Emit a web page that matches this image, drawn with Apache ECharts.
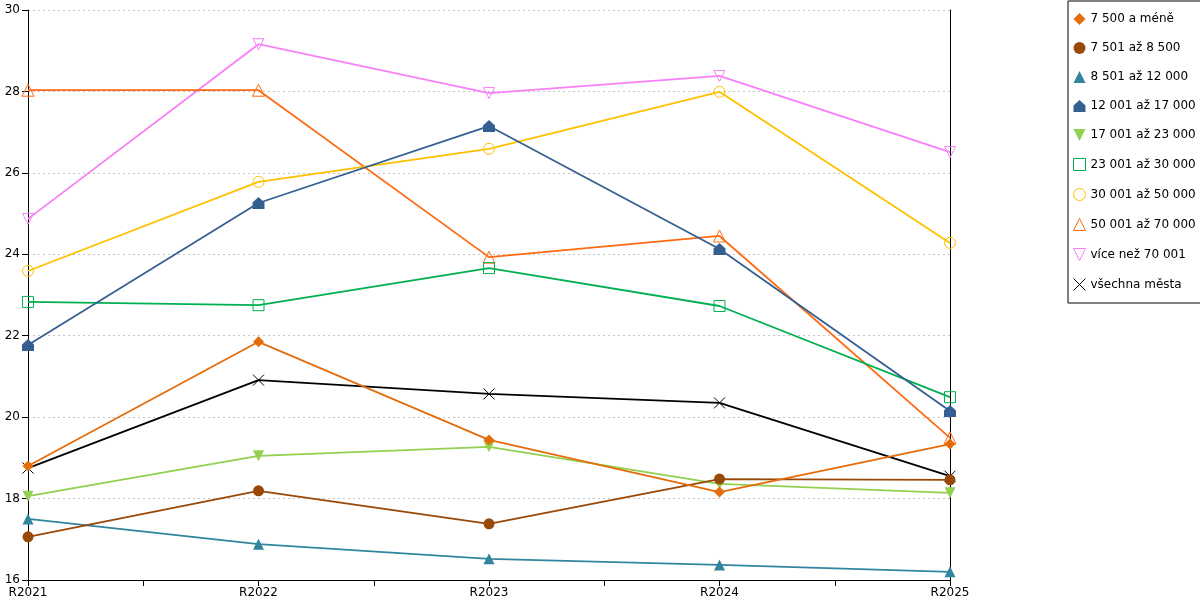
<!DOCTYPE html>
<html>
<head>
    <meta charset="utf-8">
    <title>Graf</title>
    <script src="https://cdn.jsdelivr.net/npm/echarts@6/dist/echarts.min.js"></script>
    <style>
        html, body { margin: 0; padding: 0; background: #ffffff; }
        #chart { width: 1200px; height: 600px; }
    </style>
</head>
<body>
<div id="chart"></div>
<script>
    // kategorie a hodnoty
    var roky = ['R2021', 'R2022', 'R2023', 'R2024', 'R2025'];
    var pomocneTicky = ['R2021', '', 'R2022', '', 'R2023', '', 'R2024', '', 'R2025'];

    var nazvy = ['7 500 a méně', '7 501 až 8 500', '8 501 až 12 000', '12 001 až 17 000',
        '17 001 až 23 000', '23 001 až 30 000', '30 001 až 50 000', '50 001 až 70 000',
        'více než 70 001', 'všechna města'];

    var s7500 = [18.80, 21.85, 19.44, 18.16, 19.34];
    var s8500 = [17.06, 18.19, 17.38, 18.48, 18.46];
    var s12000 = [17.50, 16.88, 16.52, 16.37, 16.20];
    var s17000 = [21.77, 25.26, 27.15, 24.13, 20.15];
    var s23000 = [18.06, 19.05, 19.27, 18.36, 18.14];
    var s30000 = [22.83, 22.75, 23.66, 22.73, 20.49];
    var s50000 = [23.59, 25.78, 26.59, 27.99, 24.28];
    var s70000 = [28.03, 28.03, 23.93, 24.45, 19.49];
    var sVice = [24.87, 29.16, 27.96, 28.38, 26.51];
    var sVsechna = [18.75, 20.91, 20.57, 20.35, 18.55];

    var hodnoty = [s7500, s8500, s12000, s17000, s23000, s30000, s50000, s70000, sVice, sVsechna];

    var barvy = ['#e46c0a', '#984807', '#31859c', '#365f91', '#92d050',
        '#00b050', '#ffc000', '#ff6a13', '#f77ff7', '#000000'];

    var domek = 'path://M5,0 L10,4.5 L10,10 L0,10 L0,4.5 Z';
    var dolu = 'path://M0,0 L10,0 L5,10 Z';
    var krizek = 'path://M0,0 L10,10 M10,0 L0,10';

    // symbol, velikost, plny
    var znacky = [
        ['diamond', 11, true],
        ['circle', 11, true],
        ['triangle', 11, true],
        [domek, 12, true],
        [dolu, 11, true],
        ['rect', 11, false],
        ['circle', 11, false],
        ['triangle', 12, false],
        [dolu, 11, false],
        [krizek, 11, false]
    ];

    var chart = echarts.init(document.getElementById('chart'));

    var series = [];
    var legendData = [];
    for (var i = 0; i < nazvy.length; i++) {
        var z = znacky[i];
        var item = z[2]
            ? {color: barvy[i], borderWidth: 0}
            : {color: 'transparent', borderColor: barvy[i], borderWidth: 1};
        series.push({
            name: nazvy[i],
            type: 'line',
            data: hodnoty[i],
            symbol: z[0],
            symbolSize: z[1],
            showAllSymbol: true,
            lineStyle: {color: barvy[i], width: 1.8},
            itemStyle: item,
            emphasis: {disabled: true},
            z: 10 - i
        });
        legendData.push({name: nazvy[i], icon: z[0], itemStyle: item});
    }

    var font = 'DejaVu Sans';

    var option = {
        animation: false,
        backgroundColor: '#ffffff',
        grid: {left: 28, right: 250, top: 10, bottom: 20, containLabel: false},
        legend: {
            orient: 'vertical',
            left: 1068,
            top: 1,
            padding: [12, 8, 12, 5],
            itemWidth: 12,
            itemHeight: 12,
            itemGap: 17,
            borderColor: '#000',
            borderWidth: 1,
            selectedMode: false,
            textStyle: {fontFamily: font, fontSize: 12, color: '#000'},
            data: legendData
        },
        xAxis: [{
            type: 'category',
            data: roky,
            boundaryGap: false,
            axisLine: {lineStyle: {color: '#000', width: 1}},
            axisTick: {show: false},
            axisLabel: {fontFamily: font, fontSize: 12, color: '#000', margin: 7}
        }, {
            type: 'category',
            data: pomocneTicky,
            boundaryGap: false,
            position: 'bottom',
            axisLine: {show: false},
            axisTick: {show: true, length: 6, inside: false, lineStyle: {color: '#000'}},
            axisLabel: {show: false}
        }],
        yAxis: [{
            type: 'value',
            min: 16,
            max: 30,
            interval: 2,
            axisLine: {show: true, lineStyle: {color: '#000', width: 1}},
            axisTick: {show: true, length: 6, lineStyle: {color: '#000'}},
            axisLabel: {fontFamily: font, fontSize: 12, color: '#000', margin: 8},
            splitLine: {show: true, lineStyle: {color: '#c4c4c4', type: [2, 3], width: 1}}
        }, {
            type: 'value',
            position: 'right',
            min: 16,
            max: 30,
            interval: 2,
            axisLine: {show: true, lineStyle: {color: '#000', width: 1}},
            axisTick: {show: false},
            axisLabel: {show: false},
            splitLine: {show: false}
        }],
        series: series
    };

    chart.setOption(option);

    window.onresize = function () {
        chart.resize();
    };
</script>
</body>
</html>
